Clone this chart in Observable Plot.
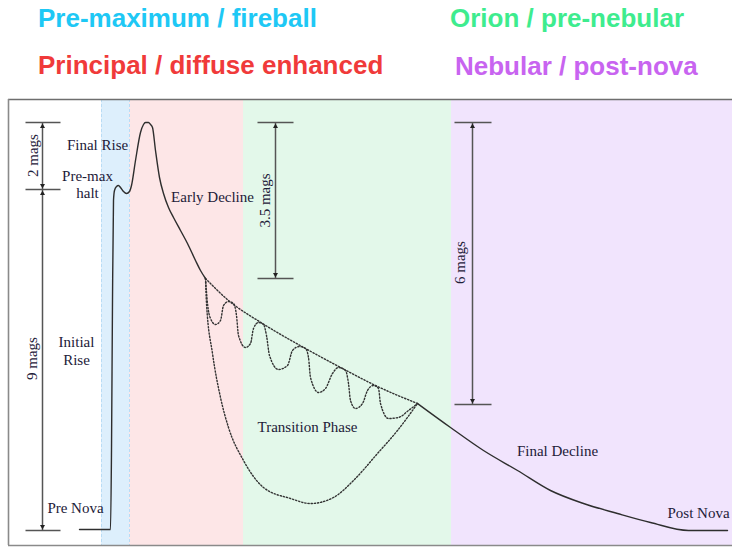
<!DOCTYPE html>
<html>
<head>
<meta charset="utf-8">
<script src="https://cdn.jsdelivr.net/npm/d3@7"></script>
<script src="https://cdn.jsdelivr.net/npm/@observablehq/plot@0.6"></script>
<style>
  html, body { margin: 0; padding: 0; background: #fff; }
  #wrap { width: 732px; }
  #head { position: relative; height: 97px; width: 732px; font-family: "Liberation Sans", Arial, sans-serif; font-weight: bold; font-size: 26px; }
  #head span { position: absolute; line-height: 26px; white-space: nowrap; }
  #chart svg { display: block; }
</style>
</head>
<body>
<div id="wrap">
  <div id="head"></div>
  <div id="chart"></div>
</div>
<script>
// ---- Phases (header labels and background bands) ----
const phaseNames  = ["Pre-maximum / fireball", "Principal / diffuse enhanced", "Orion / pre-nebular", "Nebular / post-nova"];
const phaseColors = ["#1ec8f5", "#f03a3a", "#3eec8e", "#c864f0"];
const bandFills   = ["#ddeffc", "#fde6e7", "#e3f8ea", "#f1e4fd"];
const bandStart   = [93, 121, 235, 443];   // time units
const bandEnd     = [121, 235, 443, 724];

// ---- Schematic light curve (time, brightness) ----
const lightCurve = [[71,16],[102,16],[103,95],[104,245],[105,345],[106,355],[108,359],[110,360],[112,358],[115,354],[118,352],[121,354],[123,360],[127,385],[132,413],[135,421],[137,423],[140,423],[142,421],[144,418],[147,395],[151,368],[155,352],[160,338],[165,328],[172,315],[179,302],[187,285],[192,275],[197,267]];
const finalDecline = [[409,142],[442,118],[475,95],[509,75],[542,55],[575,42],[609,32],[642,23],[680,15],[719,15]];
const envelope = [[197,267],[220,245],[254,222],[297,197],[334,177],[367,160],[409,142]];
const oscillation = [[197,267],[199,242],[202,227],[207,221],[212,225],[215,240],[220,244],[225,242],[228,230],[230,210],[237,198],[242,202],[245,217],[250,223],[255,221],[258,210],[261,190],[270,176],[279,180],[284,195],[291,199],[297,197],[300,188],[302,168],[310,153],[317,157],[324,172],[330,178],[337,175],[340,162],[342,145],[347,137],[354,142],[359,155],[365,160],[370,157],[372,142],[380,127],[390,128],[400,135],[409,142]];
const deepDip = [[197,267],[198,242],[204,192],[212,148],[220,118],[235,85],[255,58],[282,47],[302,42],[325,48],[345,65],[369,92],[389,115],[409,142]];

// ---- Dimension annotations ----
const dimLabels = ["2 mags", "9 mags", "3.5 mags", "6 mags"];
const dimT      = [34, 34, 267, 464];
const dimTop    = [423, 356, 423, 423];
const dimBottom = [356, 15, 267, 141];
const dimLabelT = [25, 24, 257, 452];
const dimLabelB = [390, 187, 345, 283];
const tickRows  = [[17,52,423],[17,52,356],[17,52,15],[249,285,423],[249,285,267],[446,483,423],[446,483,141]];

// ---- Phase labels on the curve ----
const labelText = ["Final Rise", "Pre-max", "halt", "Early Decline", "Initial", "Rise", "Pre Nova", "Transition Phase", "Final Decline", "Post Nova"];
const labelT    = [89, 79, 79, 204, 68, 68, 67, 299, 549, 690];
const labelB    = [400, 369, 352, 348, 203, 185, 37, 118, 94, 32];

const tDomain = [0, 724];
const bDomain = [0, 446];

// header
const head = document.getElementById("head");
const headPos = [[38, 5], [38, 52], [450, 5], [455, 53]];
phaseNames.forEach((n, i) => {
  const s = document.createElement("span");
  s.textContent = n;
  s.style.color = phaseColors[i];
  s.style.left = headPos[i][0] + "px";
  s.style.top = headPos[i][1] + "px";
  head.appendChild(s);
});

const bands = phaseNames.map((n, i) => ({name: n, t1: bandStart[i], t2: bandEnd[i], fill: bandFills[i]}));
const dims = dimLabels.map((l, i) => ({label: l, t: dimT[i], b1: dimTop[i], b2: dimBottom[i], lt: dimLabelT[i], lb: dimLabelB[i]}));
const ticks = tickRows.map(([t1, t2, b]) => ({t1, t2, b}));
const heads = dims.flatMap(d => [{t: d.t, b: d.b1 - 4, r: 0}, {t: d.t, b: d.b2 + 4, r: 180}]);
const labels = labelText.map((s, i) => ({s, t: labelT[i], b: labelB[i]}));
const P = a => a.map(([t, b]) => ({t, b}));

const serif = "Liberation Serif, Times New Roman, serif";
const ink = "#1d2038";
const dotted = {x: "t", y: "b", curve: "monotone-x", stroke: "#333", strokeWidth: 1.4, strokeDasharray: "1.3,1.9"};
const solid = {x: "t", y: "b", curve: "monotone-x", stroke: "#2e2e2e", strokeWidth: 1.4};

const chart = Plot.plot({
  width: 732,
  height: 450,
  marginLeft: 8,
  marginRight: 0,
  marginTop: 2,
  marginBottom: 2,
  x: {domain: tDomain, axis: null},
  y: {domain: bDomain, axis: null},
  marks: [
    Plot.rect(bands, {x1: "t1", x2: "t2", y1: bDomain[0], y2: bDomain[1], fill: "fill"}),
    Plot.ruleX([bandStart[0], bandEnd[0]], {stroke: "#b9dcf5", strokeDasharray: "3,2", strokeWidth: 1}),
    Plot.ruleY([bDomain[1]], {stroke: "#6e6e6e", strokeWidth: 1.6}),
    Plot.ruleY([bDomain[0]], {stroke: "#8a8a8a", strokeWidth: 1.6}),
    Plot.ruleX([tDomain[0]], {stroke: "#8a8a8a", strokeWidth: 1.6}),
    // dimension lines
    Plot.link(dims, {x1: "t", x2: "t", y1: "b1", y2: "b2", stroke: "#555", strokeWidth: 1.5}),
    Plot.link(ticks, {x1: "t1", x2: "t2", y1: "b", y2: "b", stroke: "#555", strokeWidth: 1.5}),
    Plot.dot(heads, {x: "t", y: "b", symbol: "triangle2", r: 2.4, fill: "#222", rotate: "r"}),
    Plot.text(dims, {x: "lt", y: "lb", text: "label", rotate: -90, fontFamily: serif, fontSize: 15, fill: ink}),
    // transition-phase dotted paths
    Plot.line(P(envelope), dotted),
    Plot.line(P(oscillation), dotted),
    Plot.line(P(deepDip), dotted),
    // solid light curve
    Plot.line(P(lightCurve), solid),
    Plot.line(P(finalDecline), solid),
    // labels
    Plot.text(labels, {x: "t", y: "b", text: "s", fontFamily: serif, fontSize: 15, fill: ink})
  ]
});
document.getElementById("chart").appendChild(chart);
</script>
</body>
</html>
